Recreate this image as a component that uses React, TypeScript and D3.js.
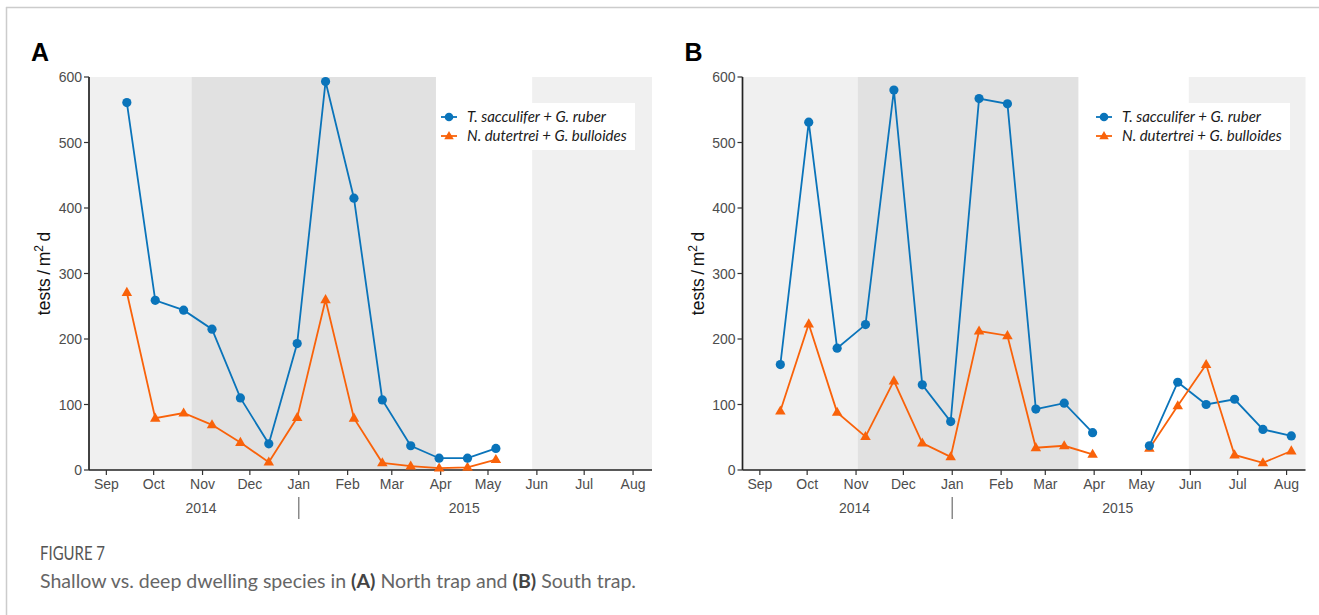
import React from "react";
import * as d3 from "d3";

// ---- data ----
const sampleDates = [
  "2014-09-14", "2014-10-02", "2014-10-20", "2014-11-07", "2014-11-25", "2014-12-13", "2014-12-31",
  "2015-01-18", "2015-02-05", "2015-02-23", "2015-03-13", "2015-03-31", "2015-04-18", "2015-05-06",
  "2015-05-24", "2015-06-11", "2015-06-29", "2015-07-17", "2015-08-04",
];
const northShallow = [561, 259, 244, 215, 110, 40, 193, 593, 415, 107, 37, 18, 18, 33];
const northDeep = [271, 79, 87, 69, 42, 12, 80, 260, 79, 11, 6, 3, 4, 16];
const southShallow = [161, 531, 186, 222, 580, 130, 74, 567, 559, 93, 102, 57, null, 37, 134, 100, 108, 62, 52];
const southDeep = [90, 223, 88, 51, 136, 41, 20, 212, 205, 34, 37, 24, null, 33, 98, 161, 23, 11, 29];

const monthTicks = [
  "2014-09-01", "2014-10-01", "2014-11-01", "2014-12-01", "2015-01-01", "2015-02-01",
  "2015-03-01", "2015-04-01", "2015-05-01", "2015-06-01", "2015-07-01", "2015-08-01",
];
const yTicks = [0, 100, 200, 300, 400, 500, 600];
const seriesNames = ["T. sacculifer + G. ruber", "N. dutertrei + G. bulloides"];
const yearLabels = [
  { label: "2014", date: "2014-10-31" },
  { label: "2015", date: "2015-04-16" },
];
const shadingA = [
  { from: "2014-08-21", to: "2014-10-25", tone: "light" },
  { from: "2014-10-25", to: "2015-03-29", tone: "dark" },
  { from: "2015-05-29", to: "2015-08-13", tone: "light" },
];
const shadingB = [
  { from: "2014-08-21", to: "2014-11-02", tone: "light" },
  { from: "2014-11-02", to: "2015-03-22", tone: "dark" },
  { from: "2015-05-31", to: "2015-08-13", tone: "light" },
];

const BLUE = "#0A74BA";
const ORANGE = "#F9620A";
const parse = d3.timeParse("%Y-%m-%d");
const fmtMonth = d3.timeFormat("%b");

type Panel = {
  letter: string;
  left: number;
  shallow: (number | null)[];
  deep: (number | null)[];
  shading: { from: string; to: string; tone: string }[];
  legendX: number;
};

const panels: Panel[] = [
  { letter: "A", left: 89, shallow: northShallow, deep: northDeep, shading: shadingA, legendX: 438 },
  { letter: "B", left: 742.5, shallow: southShallow, deep: southDeep, shading: shadingB, legendX: 1093 },
];

const PLOT_W = 563;
const TOP = 77;
const BOTTOM = 470;

function triPath(cx: number, cy: number, s: number) {
  const h = s * 0.866;
  return `M${cx},${cy - h * 0.62}L${cx + s / 2},${cy + h * 0.38}L${cx - s / 2},${cy + h * 0.38}Z`;
}

function PanelView({ p }: { p: Panel }) {
  const x = d3
    .scaleTime()
    .domain([parse("2014-08-21")!, parse("2015-08-13")!])
    .range([p.left, p.left + PLOT_W]);
  const y = d3.scaleLinear().domain([0, 600]).range([BOTTOM, TOP]);
  const dates = sampleDates.map((d) => parse(d)!);
  const mk = (vals: (number | null)[]) =>
    vals.map((v, i) => ({ d: dates[i], v }));
  const line = d3
    .line<{ d: Date; v: number | null }>()
    .defined((e) => e.v !== null)
    .x((e) => x(e.d))
    .y((e) => y(e.v as number));
  const sh = mk(p.shallow);
  const dp = mk(p.deep);
  const tickFont = "'Liberation Sans', Arial, sans-serif";
  const jan = x(parse("2015-01-01")!);
  return (
    <g>
      <text x={p.left - 58} y={61} fontFamily={tickFont} fontWeight="bold" fontSize={25} fill="#000">
        {p.letter}
      </text>
      {p.shading.map((s, i) => (
        <rect
          key={i}
          x={x(parse(s.from)!)}
          y={TOP}
          width={x(parse(s.to)!) - x(parse(s.from)!)}
          height={BOTTOM - TOP}
          fill={s.tone === "dark" ? "#E1E1E1" : "#F0F0F0"}
        />
      ))}
      {/* y axis */}
      <line x1={p.left} x2={p.left} y1={TOP} y2={BOTTOM} stroke="#222" strokeWidth={1.7} />
      {yTicks.map((t) => (
        <g key={t}>
          <line x1={p.left - 5} x2={p.left} y1={y(t)} y2={y(t)} stroke="#333" strokeWidth={1.2} />
          <text
            x={p.left - 7}
            y={y(t) + 5}
            textAnchor="end"
            fontFamily={tickFont}
            fontSize={14}
            fill="#4D4D4D"
          >
            {t}
          </text>
        </g>
      ))}
      {/* x axis */}
      <line x1={p.left} x2={p.left + PLOT_W} y1={BOTTOM} y2={BOTTOM} stroke="#222" strokeWidth={1.7} />
      {monthTicks.map((m) => {
        const xx = x(parse(m)!);
        return (
          <g key={m}>
            <line x1={xx} x2={xx} y1={BOTTOM} y2={BOTTOM + 5} stroke="#333" strokeWidth={1.2} />
            <text x={xx} y={BOTTOM + 18.5} textAnchor="middle" fontFamily={tickFont} fontSize={14} fill="#4D4D4D">
              {fmtMonth(parse(m)!)}
            </text>
          </g>
        );
      })}
      {yearLabels.map((yl) => (
        <text
          key={yl.label}
          x={x(parse(yl.date)!)}
          y={513}
          textAnchor="middle"
          fontFamily={tickFont}
          fontSize={14}
          fill="#4D4D4D"
        >
          {yl.label}
        </text>
      ))}
      <line x1={jan} x2={jan} y1={497} y2={519} stroke="#8A8A8A" strokeWidth={1.5} />
      {/* y title */}
      <text
        transform={`translate(${p.left - 39},${(TOP + BOTTOM) / 2}) rotate(-90)`}
        textAnchor="middle"
        fontFamily={tickFont}
        fontSize={17.5}
        fill="#111"
      >
        {"tests\u2009/\u2009m"}
        <tspan dy={-7} fontSize={12}>2</tspan>
        <tspan dy={7}>{"\u2009d"}</tspan>
      </text>
      {/* series */}
      <path d={line(sh) || ""} fill="none" stroke={BLUE} strokeWidth={1.8} />
      <path d={line(dp) || ""} fill="none" stroke={ORANGE} strokeWidth={1.8} />
      {dp
        .filter((e) => e.v !== null)
        .map((e, i) => (
          <path key={"t" + i} d={triPath(x(e.d), y(e.v as number), 10.5)} fill={ORANGE} />
        ))}
      {sh
        .filter((e) => e.v !== null)
        .map((e, i) => (
          <circle key={"c" + i} cx={x(e.d)} cy={y(e.v as number)} r={4.6} fill={BLUE} />
        ))}
      {/* legend */}
      <rect x={p.legendX} y={103} width={197} height={47} fill="#fff" />
      <line x1={p.legendX + 3} x2={p.legendX + 19} y1={117} y2={117} stroke={BLUE} strokeWidth={1.8} />
      <circle cx={p.legendX + 11} cy={117} r={4.3} fill={BLUE} />
      <line x1={p.legendX + 3} x2={p.legendX + 19} y1={136} y2={136} stroke={ORANGE} strokeWidth={1.8} />
      <path d={triPath(p.legendX + 11, 136, 9.5)} fill={ORANGE} />
      {seriesNames.map((n, i) => (
        <text
          key={n}
          x={p.legendX + 29}
          y={122 + i * 19}
          fontFamily="Lato, 'Open Sans', sans-serif"
          fontStyle="italic"
          fontSize={15}
          fill="#1A1A1A"
        >
          {n}
        </text>
      ))}
    </g>
  );
}

export default function App() {
  return (
    <svg
      width={1319}
      height={615}
      style={{ position: "absolute", left: 0, top: 0, background: "#fff" }}
    >
      <rect x={0} y={0} width={1319} height={615} fill="#fff" />
      <line x1={6} x2={1319} y1={7.5} y2={7.5} stroke="#CCCCCC" strokeWidth={1.5} />
      <line x1={6.5} x2={6.5} y1={7} y2={615} stroke="#CCCCCC" strokeWidth={1.5} />
      {panels.map((p) => (
        <PanelView key={p.letter} p={p} />
      ))}
      <text
        x={40}
        y={560}
        fontFamily="Lato, 'Open Sans', sans-serif"
        fontSize={18.5}
        fill="#555"
        textLength={65}
        lengthAdjust="spacingAndGlyphs"
      >
        FIGURE 7
      </text>
      <text
        x={40}
        y={588}
        fontFamily="Lato, 'Open Sans', sans-serif"
        fontSize={19}
        fill="#666"
        textLength={596}
        lengthAdjust="spacingAndGlyphs"
      >
        Shallow vs. deep dwelling species in <tspan fontWeight="bold" fill="#444">(A)</tspan> North trap and{" "}
        <tspan fontWeight="bold" fill="#444">(B)</tspan> South trap.
      </text>
    </svg>
  );
}
